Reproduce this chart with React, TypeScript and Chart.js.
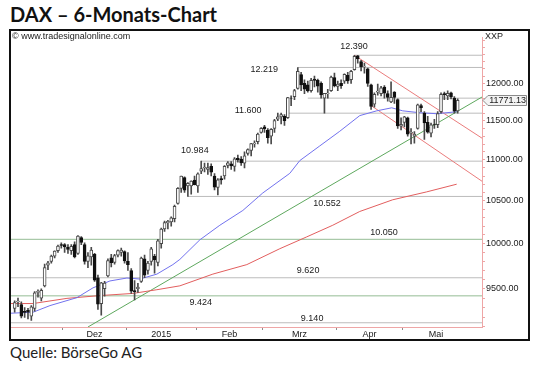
import React, { useEffect, useRef } from "react";
import { Chart, registerables } from "chart.js";

Chart.register(...registerables);

// DAX daily candles, trading-day index 0 = 10.11.2014 ... 133 = 27.05.2015
const opens = [
  9290, 9360, 9330, 9260, 9270, 9210, 9290, 9460, 9400, 9530, 9760, 9800, 9860, 9920, 9990,
  9990, 9960, 9920, 9990, 9890, 10070, 9990, 9800, 9850, 9880, 9620, 9340, 9500, 9640, 9840, 9790, 9870, 9900, 9910,
  9800, 9700, 9480, 9500, 9580, 9830, 9700, 9800, 9860, 9790, 10000, 10170, 10240, 10250, 10290, 10470, 10650, 10780, 10680, 10680, 10750,
  10680, 10860, 10900, 10880, 10920, 10800, 10660, 10770, 10800, 10930, 10950, 10920, 11020, 11010, 10960, 11080, 11120, 11200, 11230, 11350,
  11420, 11380, 11300, 11400, 11520, 11550, 11560, 11540, 11800, 11820, 11930, 12120, 12000, 11980, 11900, 12060, 12040, 12000, 11800, 11860, 11900, 12080,
  11960, 12000, 12030, 12110, 12050, 12190, 12380, 12300, 12230, 12200, 11980, 11720, 11880, 11860, 11950, 11860, 11750, 11880, 11780, 11430,
  11480, 11540, 11340, 11300, 11400, 11700, 11600, 11480, 11340, 11450, 11450, 11620, 11860, 11830, 11870, 11800, 11630,
];
const highs = [
  9370, 9400, 9360, 9300, 9290, 9320, 9470, 9490, 9500, 9770, 9800, 9870, 9920, 9985, 10010,
  10000, 9990, 9990, 10020, 10094, 10080, 10010, 9900, 9960, 9890, 9650, 9570, 9580, 9830, 9880, 9880, 9930, 9950, 9920,
  9900, 9720, 9590, 9560, 9850, 9870, 9800, 9960, 9880, 10050, 10180, 10260, 10270, 10310, 10450, 10660, 10800, 10790, 10720, 10740, 10800,
  10840, 10984, 10960, 10960, 10950, 10830, 10770, 10800, 10930, 10980, 10980, 11030, 11060, 11040, 11100, 11140, 11210, 11240, 11340, 11410,
  11440, 11400, 11400, 11520, 11600, 11600, 11580, 11810, 11830, 11920, 12219, 12150, 12050, 12030, 12070, 12100, 12060, 12020, 11860, 11920, 12100, 12140,
  12030, 12050, 12130, 12150, 12180, 12390, 12390, 12320, 12280, 12210, 11990, 11870, 11990, 11960, 11970, 11900, 12020, 11890, 11790, 11540,
  11560, 11550, 11400, 11360, 11720, 11720, 11620, 11560, 11470, 11520, 11620, 11870, 11880, 11900, 11880, 11820, 11790,
];
const lows = [
  9250, 9310, 9190, 9195, 9180, 9165, 9260, 9410, 9370, 9520, 9710, 9780, 9840, 9900, 9950,
  9900, 9890, 9880, 9840, 9880, 9990, 9770, 9730, 9760, 9580, 9280, 9220, 9420, 9630, 9740, 9770, 9850, 9860, 9780,
  9700, 9450, 9380, 9460, 9570, 9620, 9660, 9760, 9670, 9750, 9950, 10140, 10170, 10200, 10250, 10460, 10600, 10600, 10552, 10580, 10690,
  10600, 10830, 10850, 10820, 10800, 10630, 10570, 10700, 10760, 10900, 10880, 10860, 10970, 10930, 10900, 11060, 11050, 11160, 11200, 11340,
  11350, 11210, 11200, 11350, 11500, 11460, 11440, 11530, 11700, 11780, 11920, 11900, 11860, 11880, 11880, 11950, 11880, 11800, 11600, 11800, 11890, 11950,
  11900, 11930, 12000, 12000, 12000, 12180, 12280, 12170, 12140, 11960, 11650, 11680, 11840, 11830, 11800, 11760, 11740, 11730, 11400, 11380,
  11420, 11300, 11200, 11210, 11390, 11620, 11260, 11340, 11290, 11400, 11410, 11600, 11780, 11780, 11790, 11600, 11600,
];
const closes = [
  9351, 9369, 9210, 9248, 9252, 9306, 9456, 9473, 9483, 9732, 9785, 9861, 9915, 9974, 9980,
  9963, 9934, 9971, 9851, 10087, 10014, 9799, 9862, 9928, 9594, 9335, 9564, 9563, 9811, 9787, 9865, 9922, 9927, 9805,
  9764, 9473, 9469, 9518, 9837, 9648, 9781, 9941, 9817, 10032, 10167, 10242, 10257, 10299, 10435, 10649, 10798, 10628, 10710, 10738, 10694,
  10828, 10891, 10911, 10905, 10846, 10663, 10754, 10752, 10919, 10963, 10924, 11014, 11000, 10961, 11051, 11130, 11206, 11211, 11327, 11402,
  11393, 11280, 11390, 11504, 11551, 11582, 11500, 11806, 11799, 11901, 12167, 11980, 11922, 11899, 12040, 12039, 11963, 11843, 11865, 11868, 12086, 11966,
  11989, 11968, 12123, 12035, 12166, 12375, 12338, 12227, 12231, 11998, 11689, 11850, 11896, 11939, 11867, 11810, 11812, 11811, 11432, 11454,
  11551, 11327, 11350, 11328, 11709, 11673, 11472, 11351, 11447, 11447, 11594, 11853, 11848, 11864, 11815, 11625, 11771.13,
];

// month axis: boundaries (between trading days) and label centres
const monthLabels = ["Dez", "2015", "Feb", "Mrz", "Apr", "Mai"];
const monthBoundaries = [14.5, 33.5, 54.5, 74.5, 96.5, 116.5];
const monthCenters = [24, 44, 64.5, 85.5, 106.5, 126.5];

const yTickLabels = [9500, 10000, 10500, 11000, 11500, 12000];
const yMinorTicks = [
  9100, 9200, 9300, 9400, 9500, 9600, 9700, 9800, 9900, 10000, 10100, 10200, 10300, 10400, 10500,
  10600, 10700, 10800, 10900, 11000, 11100, 11200, 11300, 11400, 11500, 11600, 11700, 11800, 11900,
  12000, 12100, 12200, 12300, 12400, 12500, 12600,
];

// moving averages
const maShortX = [-1.1, 5.5, 10.6, 18.7, 23.5, 28.6, 33.7, 37.6, 42.7, 47.5, 49.6, 55.6, 61.6, 68.5, 74.5, 82.6, 85.6, 91.6, 97.6, 103.6, 108.7, 113.2, 116.5, 121.6, 126.7, 132.7];
const maShortY = [9240, 9250, 9320, 9405, 9510, 9585, 9617, 9606, 9660, 9765, 9823, 10044, 10212, 10385, 10594, 10833, 10991, 11176, 11364, 11568, 11631, 11671, 11631, 11606, 11593, 11619];
const maLongX = [-1.1, 5.5, 15.7, 25.6, 35.5, 42.7, 49.6, 59.5, 69.7, 79.6, 87.7, 95.5, 103.6, 113.5, 123.7, 132.7];
const maLongY = [9342, 9342, 9397, 9427, 9450, 9490, 9532, 9660, 9765, 9943, 10078, 10212, 10373, 10512, 10607, 10700];

// trend and channel lines
const trendX = [22, 140.3];
const trendY = [9096, 11815];
const channelUpperX = [102, 140.3];
const channelUpperY = [12390, 11275];
const channelLowerX = [106.7, 140.3];
const channelLowerY = [11710, 10736];

// horizontal levels
const levelValues = [12390, 12219, 11800, 11600, 10984, 10552, 10050, 9620, 9424, 9140];
const levelStarts = [102, 85, 88, 82, 56, 52, -1.1, -1.1, -1.1, -1.1];
const levelTexts = ["12.390", "12.219", "", "11.600", "10.984", "10.552", "10.050", "9.620", "9.424", "9.140"];
const levelTextIdx = [101.9, 74.9, 0, 70.1, 54.1, 93.8, 110.9, 88.1, 55.9, 89.3];
const levelTextVal = [12518, 12188, 0, 11632, 11114, 10465, 10133, 9703, 9353, 9189];
const greenLevels = [10050, 9424];

const X_MIN = -1.1;
const X_MAX = 140.3;
const Y_MIN = 9096;
const Y_MAX = 12644;

const FONT = '"Liberation Sans", Arial, sans-serif';
const PINK = "#eea6a6";
const GREY_LEVEL = "#bcbcbc";
const GREEN_LEVEL = "#94bc94";

const annotationPlugin = {
  id: "annotations",
  afterDatasetsDraw(chart: any) {
    const { ctx, scales, chartArea, width } = chart;
    const x = scales.x;
    const y = scales.y;
    ctx.save();
    ctx.font = `9px ${FONT}`;
    ctx.fillStyle = "#1a1a1a";
    ctx.textAlign = "center";
    ctx.textBaseline = "middle";
    levelTexts.forEach((t, k) => {
      if (!t) return;
      ctx.fillText(t, x.getPixelForValue(levelTextIdx[k]), y.getPixelForValue(levelTextVal[k]));
    });
    ctx.textAlign = "left";
    ctx.textBaseline = "top";
    ctx.fillText("© www.tradesignalonline.com", 1, 1);
    ctx.fillText("XXP", chartArea.right + 3, 1);
    // last price box
    const last = closes[closes.length - 1];
    const py = Math.round(y.getPixelForValue(last)) + 0.5;
    const r = chartArea.right;
    ctx.beginPath();
    ctx.moveTo(r + 1, py);
    ctx.lineTo(r + 6, py - 5);
    ctx.lineTo(width - 1.5, py - 5);
    ctx.lineTo(width - 1.5, py + 5);
    ctx.lineTo(r + 6, py + 5);
    ctx.closePath();
    ctx.fillStyle = "#f3f3f3";
    ctx.fill();
    ctx.strokeStyle = "#8a8a8a";
    ctx.lineWidth = 1;
    ctx.stroke();
    ctx.fillStyle = "#1a1a1a";
    ctx.textAlign = "right";
    ctx.textBaseline = "middle";
    ctx.fillText(last.toFixed(2), width - 2, py + 0.5);
    ctx.restore();
  },
};

export default function App() {
  const ref = useRef<HTMLCanvasElement>(null);

  useEffect(() => {
    if (!ref.current) return;
    const idx = closes.map((_, i) => i);
    const isUp = (i: number) => closes[i] >= opens[i];
    const xy = (xs: number[], ys: number[]) => xs.map((v, i) => ({ x: v, y: ys[i] }));
    const lineBase = { type: "line" as const, pointRadius: 0, borderWidth: 1, fill: false, tension: 0 };

    const levelSets = levelValues.map((v, k) => ({
      ...lineBase,
      data: [{ x: levelStarts[k], y: v }, { x: X_MAX, y: v }],
      borderColor: greenLevels.includes(v) ? GREEN_LEVEL : GREY_LEVEL,
      order: 10,
    }));

    const xTicks = [...monthBoundaries, ...monthCenters].sort((a, b) => a - b);

    const chart = new Chart(ref.current, {
      type: "line",
      data: {
        datasets: [
          {
            type: "bar",
            data: idx.map((i) => ({ x: i, y: [opens[i], closes[i]] })),
            backgroundColor: (c: any) => (isUp(c.dataIndex) ? "#ffffff" : "#111111"),
            borderColor: (c: any) => (isUp(c.dataIndex) ? "#4a4a4a" : "#111111"),
            borderWidth: 1,
            borderSkipped: false,
            barThickness: 3,
            grouped: false,
            order: 0,
          } as any,
          {
            type: "bar",
            data: idx.map((i) => ({ x: i, y: [lows[i], highs[i]] })),
            backgroundColor: "#4a4a4a",
            borderWidth: 0,
            barThickness: 1,
            grouped: false,
            order: 1,
          } as any,
          { ...lineBase, data: xy(maShortX, maShortY), borderColor: "#7272ee", order: 3 },
          { ...lineBase, data: xy(maLongX, maLongY), borderColor: "#e25e5e", order: 4 },
          { ...lineBase, data: xy(trendX, trendY), borderColor: "#5ea85e", order: 5 },
          { ...lineBase, data: xy(channelUpperX, channelUpperY), borderColor: "#ea7c7c", order: 6 },
          { ...lineBase, data: xy(channelLowerX, channelLowerY), borderColor: "#ea7c7c", order: 7 },
          ...levelSets,
        ] as any,
      },
      options: {
        animation: false,
        responsive: false,
        events: [],
        layout: { padding: 0 },
        plugins: { legend: { display: false }, tooltip: { enabled: false } },
        scales: {
          x: {
            type: "linear",
            min: X_MIN,
            max: X_MAX,
            offset: false,
            position: "bottom",
            afterFit: (s: any) => {
              s.height = 12;
            },
            afterBuildTicks: (s: any) => {
              s.ticks = xTicks.map((v) => ({ value: v }));
            },
            ticks: {
              autoSkip: false,
              maxRotation: 0,
              padding: -1,
              color: "#1a1a1a",
              font: { size: 9, family: FONT },
              callback: (v: any) => {
                const k = monthCenters.indexOf(Number(v));
                return k >= 0 ? monthLabels[k] : "";
              },
            },
            grid: {
              drawOnChartArea: false,
              offset: false,
              tickLength: 3,
              tickColor: (c: any) =>
                c.tick && monthBoundaries.includes(c.tick.value) ? "#8c8c8c" : "rgba(0,0,0,0)",
            },
            border: { color: PINK, width: 1 },
          },
          y: {
            type: "logarithmic",
            position: "right",
            min: Y_MIN,
            max: Y_MAX,
            afterFit: (s: any) => {
              s.width = 46;
            },
            afterBuildTicks: (s: any) => {
              s.ticks = yMinorTicks.map((v) => ({ value: v }));
            },
            ticks: {
              autoSkip: false,
              padding: 1,
              color: "#1a1a1a",
              font: { size: 9, family: FONT },
              callback: (v: any) => (yTickLabels.includes(Number(v)) ? Number(v).toFixed(2) : ""),
            },
            grid: { drawOnChartArea: false, tickLength: 3, tickColor: PINK },
            border: { color: PINK, width: 1 },
          },
        },
      } as any,
      plugins: [annotationPlugin],
    });
    return () => chart.destroy();
  }, []);

  return (
    <div style={{ position: "absolute", left: 0, top: 0, width: 540, height: 367, background: "#fff" }}>
      <div
        style={{
          position: "absolute",
          left: 10,
          top: 4,
          fontFamily: "Lato, sans-serif",
          fontWeight: 700,
          fontSize: 20,
          lineHeight: "21px",
          color: "#111",
          whiteSpace: "nowrap",
        }}
      >
        DAX – 6-Monats-Chart
      </div>
      <div
        style={{
          position: "absolute",
          left: 9,
          top: 29,
          width: 517,
          height: 308,
          border: "2px solid #111",
        }}
      >
        <canvas ref={ref} width={517} height={308} style={{ display: "block", width: 517, height: 308 }} />
      </div>
      <div
        style={{
          position: "absolute",
          left: 10,
          top: 345,
          fontFamily: "Lato, sans-serif",
          fontSize: 15,
          lineHeight: "15px",
          color: "#222",
          whiteSpace: "nowrap",
        }}
      >
        Quelle: BörseGo AG
      </div>
    </div>
  );
}
